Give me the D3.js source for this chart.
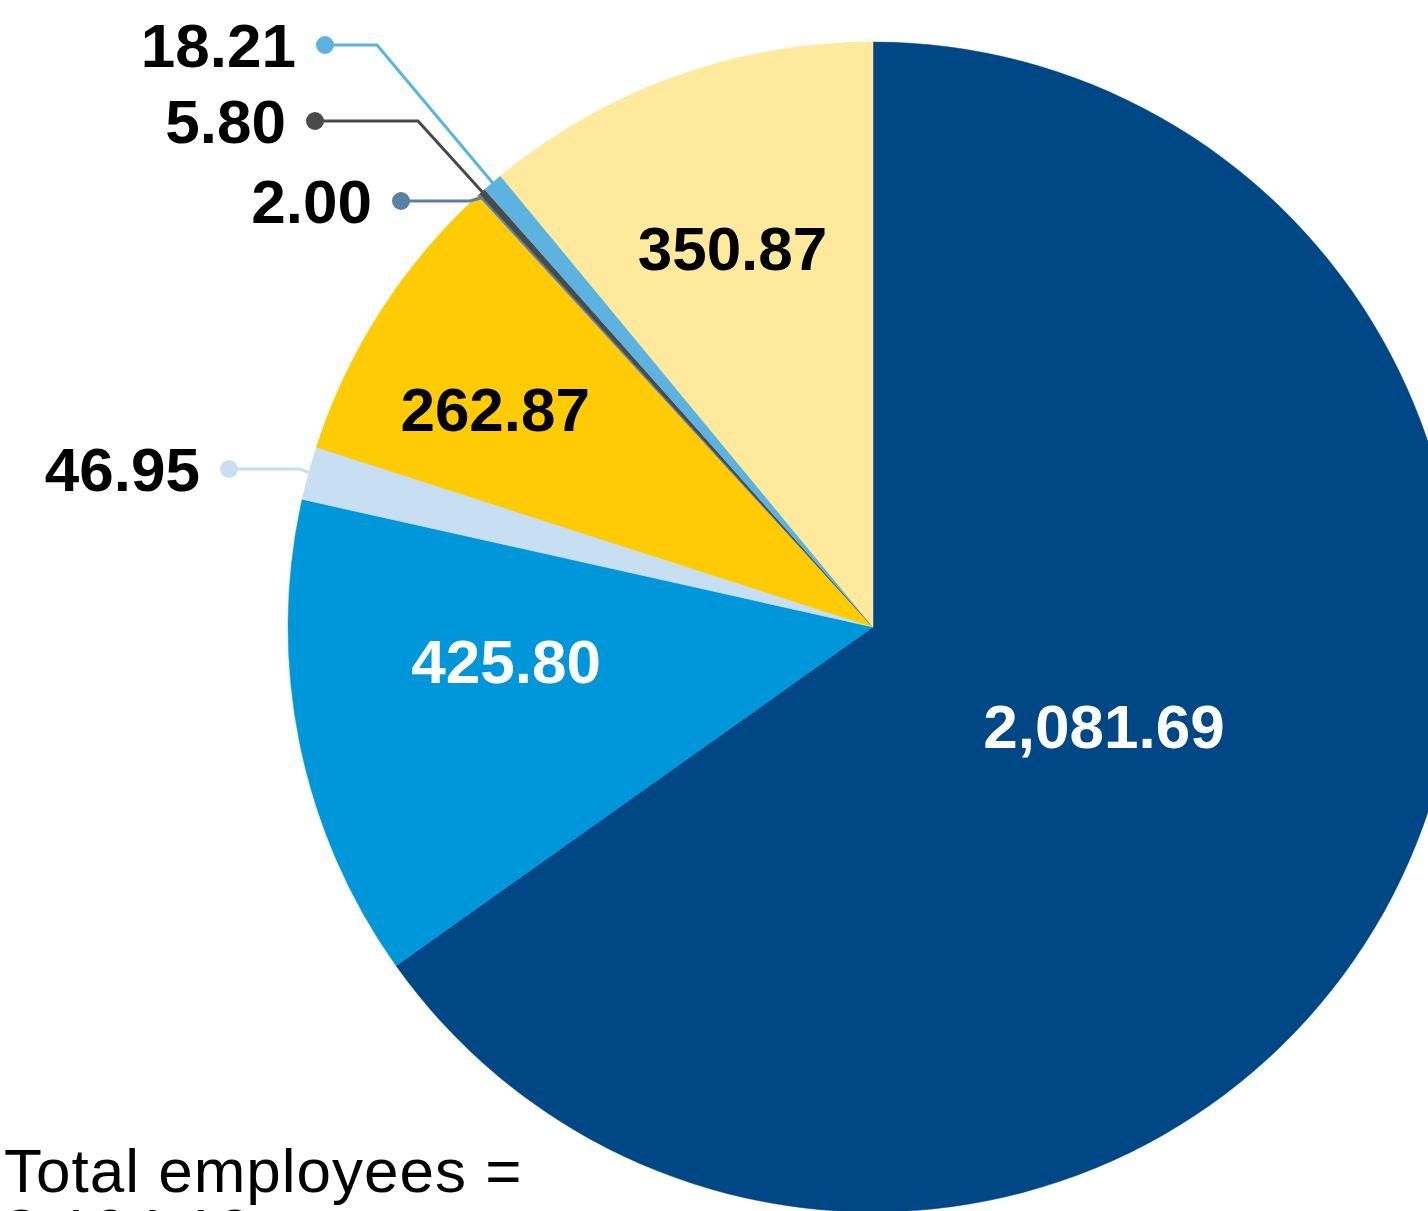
<!DOCTYPE html>
<html>
<head>
<meta charset="utf-8">
<script src="https://cdn.jsdelivr.net/npm/d3@7"></script>
<style>
  html, body { margin: 0; padding: 0; background: #fff; overflow: hidden; }
  svg { display: block; }
</style>
</head>
<body>
<div id="chart"></div>
<script>
// slice values, clockwise from 12 o'clock
const labels = ['2,081.69', '425.80', '46.95', '262.87', '2.00', '5.80', '18.21', '350.87'];
const values = [2081.69, 425.80, 46.95, 262.87, 2.00, 5.80, 18.21, 350.87];
const colours = ['#004785', '#0096da', '#c8dff3', '#ffcb05', '#5b7fa5', '#4a4a4a', '#5cb3e0', '#fee99c'];
// which labels sit inside the slice, and their text colour
const inside = [true, true, false, true, false, false, false, true];
const textColours = ['#fff', '#fff', '#000', '#000', '#000', '#000', '#000', '#000'];
const totalText = ['Total employees =', '3,194.19'];

const width = 1428, height = 1211;
const cx = 873, cy = 627, radius = 585;
const font = '"Liberation Sans", Arial, Helvetica, sans-serif';

const svg = d3.select('#chart')
  .append('svg')
  .attr('width', width)
  .attr('height', height);

const g = svg.append('g').attr('transform', 'translate(' + cx + ',' + cy + ')');

const data = values.map((v, i) => ({ value: v, label: labels[i], colour: colours[i], inside: inside[i], text: textColours[i], i: i }));

const pie = d3.pie().sort(null).value(d => d.value);
const arcs = pie(data);
const arc = d3.arc().innerRadius(0).outerRadius(radius);

g.selectAll('path.slice')
  .data(arcs)
  .join('path')
  .attr('class', 'slice')
  .attr('d', arc)
  .attr('fill', d => d.data.colour)
  .attr('stroke', d => d.data.colour)
  .attr('stroke-width', 0.5);

// inside labels: fraction of radius and a small angle nudge (degrees) off the mid angle
const insideRadius = { 0: 0.43, 1: 0.63, 3: 0.745, 7: 0.69 };
const insideNudge = { 0: -4, 1: 6, 3: -2.8, 7: -0.6 };
function labelAngle(d) {
  return (d.startAngle + d.endAngle) / 2 + insideNudge[d.data.i] * Math.PI / 180;
}
g.selectAll('text.inner')
  .data(arcs.filter(d => d.data.inside))
  .join('text')
  .attr('class', 'inner')
  .attr('x', d => Math.sin(labelAngle(d)) * radius * insideRadius[d.data.i])
  .attr('y', d => -Math.cos(labelAngle(d)) * radius * insideRadius[d.data.i])
  .attr('dy', '0.35em')
  .attr('text-anchor', 'middle')
  .attr('fill', d => d.data.text)
  .style('font-family', font)
  .style('font-weight', '700')
  .style('font-size', '62px')
  .text(d => d.data.label);

// outside labels with leader lines: dot position (page coords) and elbow x
const callouts = {
  2: { dot: [229, 469], elbow: 300 },
  4: { dot: [401, 201], elbow: 470 },
  5: { dot: [315, 121], elbow: 418 },
  6: { dot: [325, 45], elbow: 377 }
};

const outer = svg.append('g');
arcs.filter(d => !d.data.inside).forEach(d => {
  const c = callouts[d.data.i];
  const a = (d.startAngle + d.endAngle) / 2;
  const ex = cx + Math.sin(a) * (radius - 4);
  const ey = cy - Math.cos(a) * (radius - 4);
  const dx = c.dot[0], dy = c.dot[1];
  const pts = [[dx, dy], [c.elbow, dy], [ex, ey]];
  outer.append('path')
    .attr('d', d3.line()(pts))
    .attr('fill', 'none')
    .attr('stroke', d.data.colour)
    .attr('stroke-width', 3);
  outer.append('circle')
    .attr('cx', dx)
    .attr('cy', dy)
    .attr('r', 9)
    .attr('fill', d.data.colour);
  outer.append('text')
    .attr('x', dx - 29)
    .attr('y', dy)
    .attr('dy', '0.35em')
    .attr('text-anchor', 'end')
    .style('font-family', font)
    .style('font-weight', '700')
    .style('font-size', '62px')
    .text(d.data.label);
});

// total, second line falls off the bottom edge as in the source
svg.append('g')
  .selectAll('text')
  .data(totalText)
  .join('text')
  .attr('x', 4)
  .attr('y', (d, i) => 1192 + i * 60)
  .style('font-family', font)
  .style('font-size', '62px')
  .style('letter-spacing', '1px')
  .text(d => d);
</script>
</body>
</html>
